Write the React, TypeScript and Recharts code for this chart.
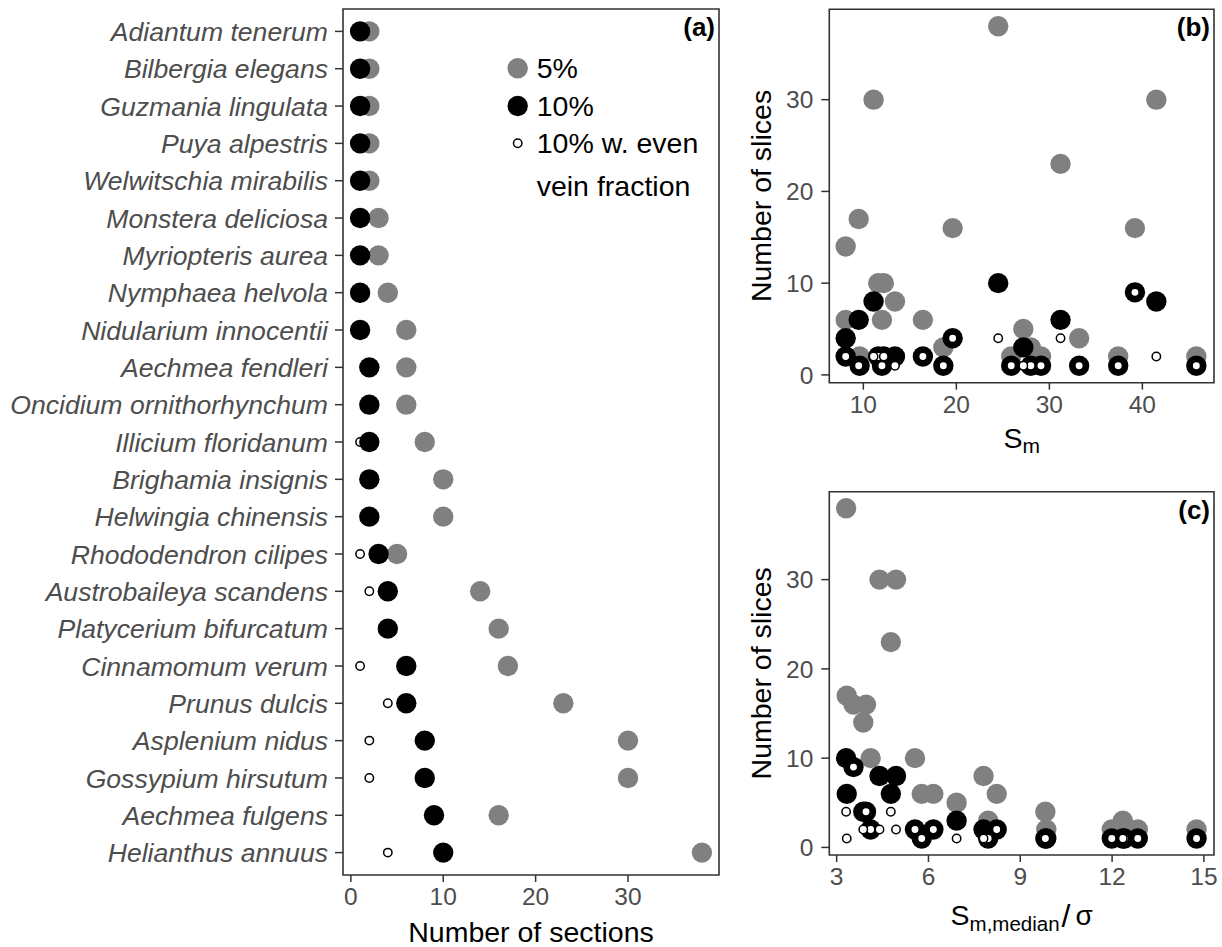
import React from "react";
import { ScatterChart, Scatter, XAxis, YAxis, ReferenceArea, Legend } from "recharts";

const FONT = '"Liberation Sans", Arial, sans-serif';
const GRAY = "#808080";
const INK = "#333333";
const TICK_TEXT = "#4d4d4d";

// species in plotting order, top to bottom
const species = [
  "Adiantum tenerum",
  "Bilbergia elegans",
  "Guzmania lingulata",
  "Puya alpestris",
  "Welwitschia mirabilis",
  "Monstera deliciosa",
  "Myriopteris aurea",
  "Nymphaea helvola",
  "Nidularium innocentii",
  "Aechmea fendleri",
  "Oncidium ornithorhynchum",
  "Illicium floridanum",
  "Brighamia insignis",
  "Helwingia chinensis",
  "Rhododendron cilipes",
  "Austrobaileya scandens",
  "Platycerium bifurcatum",
  "Cinnamomum verum",
  "Prunus dulcis",
  "Asplenium nidus",
  "Gossypium hirsutum",
  "Aechmea fulgens",
  "Helianthus annuus",
];

// number of sections needed at each tolerance
const sections5 = [2, 2, 2, 2, 2, 3, 3, 4, 6, 6, 6, 8, 10, 10, 5, 14, 16, 17, 23, 30, 30, 16, 38];
const sections10 = [1, 1, 1, 1, 1, 1, 1, 1, 1, 2, 2, 2, 2, 2, 3, 4, 4, 6, 6, 8, 8, 9, 10];
const sections10Even = [1, 1, 1, 1, 1, 1, 1, 1, 1, 2, 2, 1, 2, 2, 1, 2, 4, 1, 4, 2, 2, 9, 4];

// S_m and S_m,median / sigma per species
const sm = [9.6, 25.9, 29.1, 37.4, 45.8, 18.6, 28.0, 33.2, 12.0, 8.1, 16.4, 13.4, 11.6, 12.2, 27.2, 8.1, 19.6, 9.5, 31.2, 11.1, 41.5, 39.2, 24.5];
const smRatio = [11.99, 12.84, 14.76, 9.85, 12.4, 7.95, 12.35, 9.82, 5.78, 6.16, 8.23, 7.8, 4.11, 5.56, 6.92, 3.87, 3.96, 3.33, 4.77, 4.4, 4.94, 3.55, 3.31];

const sectionTicks = [0, 10, 20, 30];
const sliceTicks = [0, 10, 20, 30];
const smTicks = [10, 20, 30, 40];
const ratioTicks = [3, 6, 9, 12, 15];
const rowTicks = species.map((_, i) => i);

const legendItems = [
  { kind: "gray", lines: ["5%"] },
  { kind: "black", lines: ["10%"] },
  { kind: "even", lines: ["10% w. even", "vein fraction"] },
];

const grayDot = (p: any) => <circle cx={p.cx} cy={p.cy} r={10.2} fill={GRAY} />;
const blackDot = (p: any) => <circle cx={p.cx} cy={p.cy} r={10.2} fill="#000" />;
const evenDot = (p: any) => (
  <circle cx={p.cx} cy={p.cy} r={4.2} fill="#fff" stroke="#000" strokeWidth={1.5} />
);

const tickText = { fill: TICK_TEXT, fontSize: 24.5, fontFamily: FONT };
const tickLine = { stroke: INK, strokeWidth: 1.5 };

function SpeciesTick(props: any) {
  const { x, y, payload } = props;
  return (
    <text x={x} y={y} dy="0.36em" textAnchor="end" fill={TICK_TEXT} fontSize={26.6} fontStyle="italic" fontFamily={FONT}>
      {species[payload.value]}
    </text>
  );
}

function BottomTitle(props: any) {
  const { viewBox, drop, children } = props;
  return (
    <text x={viewBox.x + viewBox.width / 2} y={viewBox.y + drop} textAnchor="middle" fill="#000" fontFamily={FONT} fontSize={28.5}>
      {children}
    </text>
  );
}

function LeftTitle(props: any) {
  const { viewBox, text } = props;
  const x = viewBox.x + 30.7;
  const y = viewBox.y + viewBox.height / 2;
  return (
    <text x={x} y={y} transform={`rotate(-90 ${x} ${y})`} textAnchor="middle" fill="#000" fontFamily={FONT} fontSize={28.5}>
      {text}
    </text>
  );
}

function PanelTag(props: any) {
  const { viewBox, text } = props;
  return (
    <text x={viewBox.x + viewBox.width - 4} y={viewBox.y + 27} textAnchor="end" fill="#000" fontFamily={FONT} fontSize={26} fontWeight="bold">
      {text}
    </text>
  );
}

function LegendBox() {
  const rows = [18.3, 56, 93.3];
  return (
    <svg width={215} height={160} style={{ display: "block" }}>
      {legendItems.map((item, i) => (
        <g key={item.kind}>
          {item.kind === "gray" && <circle cx={12.7} cy={rows[i]} r={10.2} fill={GRAY} />}
          {item.kind === "black" && <circle cx={12.7} cy={rows[i]} r={10.2} fill="#000" />}
          {item.kind === "even" && <circle cx={12.7} cy={rows[i]} r={4.2} fill="#fff" stroke="#000" strokeWidth={1.5} />}
          {item.lines.map((line, j) => (
            <text key={line} x={31.7} y={rows[i] + 10 + j * 42.5} fill="#000" fontFamily={FONT} fontSize={28.5}>
              {line}
            </text>
          ))}
        </g>
      ))}
    </svg>
  );
}

function SectionsPanel() {
  const gray = sections5.map((x, i) => ({ x, y: i }));
  const black = sections10.map((x, i) => ({ x, y: i }));
  const even = sections10Even.map((x, i) => ({ x, y: i }));
  const xDomain = [-0.85, 39.85];
  const yDomain = [-0.6, 22.6];
  return (
    <ScatterChart width={730} height={947} margin={{ top: 9, right: 11, bottom: 0, left: 0 }}>
      <XAxis
        type="number"
        dataKey="x"
        domain={xDomain}
        ticks={sectionTicks}
        allowDataOverflow
        height={72}
        tickSize={7}
        tickMargin={6}
        axisLine={false}
        tickLine={tickLine}
        tick={tickText}
        label={<BottomTitle drop={66.7}>Number of sections</BottomTitle>}
      />
      <YAxis
        type="number"
        dataKey="y"
        domain={yDomain}
        reversed
        ticks={rowTicks}
        interval={0}
        allowDataOverflow
        width={343}
        tickSize={8}
        tickMargin={7}
        axisLine={false}
        tickLine={tickLine}
        tick={<SpeciesTick />}
      />
      <Scatter data={gray} shape={grayDot} isAnimationActive={false} />
      <Scatter data={even} shape={evenDot} isAnimationActive={false} />
      <Scatter data={black} shape={blackDot} isAnimationActive={false} />
      <ReferenceArea
        x1={xDomain[0]}
        x2={xDomain[1]}
        y1={yDomain[0]}
        y2={yDomain[1]}
        fill="none"
        fillOpacity={0}
        stroke={INK}
        strokeWidth={1.6}
        ifOverflow="visible"
        label={<PanelTag text="(a)" />}
      />
      <Legend
        layout="vertical"
        align="center"
        verticalAlign="middle"
        content={<LegendBox />}
        wrapperStyle={{ left: 505, top: 50, width: 215, height: 160 }}
      />
    </ScatterChart>
  );
}

function SlicesPanel(props: any) {
  const { xs, xDomain, xTicks, tag, top, height, axisHeight, title, titleDrop } = props;
  const gray = xs.map((x: number, i: number) => ({ x, y: sections5[i] }));
  const black = xs.map((x: number, i: number) => ({ x, y: sections10[i] }));
  const even = xs.map((x: number, i: number) => ({ x, y: sections10Even[i] }));
  const yDomain = [-0.85, 39.85];
  return (
    <ScatterChart width={482} height={height} margin={{ top, right: 8, bottom: 0, left: 0 }}>
      <XAxis
        type="number"
        dataKey="x"
        domain={xDomain}
        ticks={xTicks}
        allowDataOverflow
        height={axisHeight}
        tickSize={7}
        tickMargin={6}
        axisLine={false}
        tickLine={tickLine}
        tick={tickText}
        label={<BottomTitle drop={titleDrop}>{title}</BottomTitle>}
      />
      <YAxis
        type="number"
        dataKey="y"
        domain={yDomain}
        ticks={sliceTicks}
        allowDataOverflow
        width={89.3}
        tickSize={8}
        tickMargin={8}
        axisLine={false}
        tickLine={tickLine}
        tick={tickText}
        label={<LeftTitle text="Number of slices" />}
      />
      <Scatter data={gray} shape={grayDot} isAnimationActive={false} />
      <Scatter data={black} shape={blackDot} isAnimationActive={false} />
      <Scatter data={even} shape={evenDot} isAnimationActive={false} />
      <ReferenceArea
        x1={xDomain[0]}
        x2={xDomain[1]}
        y1={yDomain[0]}
        y2={yDomain[1]}
        fill="none"
        fillOpacity={0}
        stroke={INK}
        strokeWidth={1.6}
        ifOverflow="visible"
        label={<PanelTag text={tag} />}
      />
    </ScatterChart>
  );
}

export default function App() {
  const smTitle = [
    <tspan key="s" fontSize={28.5}>S</tspan>,
    <tspan key="m" fontSize={21} dy={5}>m</tspan>,
  ];
  const ratioTitle = [
    <tspan key="s" fontSize={28.5}>S</tspan>,
    <tspan key="m" fontSize={20.5} dy={6}>m,median</tspan>,
    <tspan key="sl" fontSize={32} dy={-4} dx={2}>/</tspan>,
    <tspan key="sig" fontSize={28} dy={-2} dx={5}>σ</tspan>,
  ];
  return (
    <div style={{ position: "absolute", left: 0, top: 0, width: 1222, height: 947, background: "#fff", fontFamily: FONT }}>
      <div style={{ position: "absolute", left: 0, top: 0 }}>
        <SectionsPanel />
      </div>
      <div style={{ position: "absolute", left: 740, top: 0 }}>
        <SlicesPanel xs={sm} xDomain={[6.34, 47.7]} xTicks={smTicks} tag="(b)" top={9.3} height={470} axisHeight={87.3} title={smTitle} titleDrop={65.6} />
      </div>
      <div style={{ position: "absolute", left: 740, top: 480 }}>
        <SlicesPanel xs={smRatio} xDomain={[2.76, 15.33]} xTicks={ratioTicks} tag="(c)" top={11.7} height={467} axisHeight={92} title={ratioTitle} titleDrop={70} />
      </div>
    </div>
  );
}
